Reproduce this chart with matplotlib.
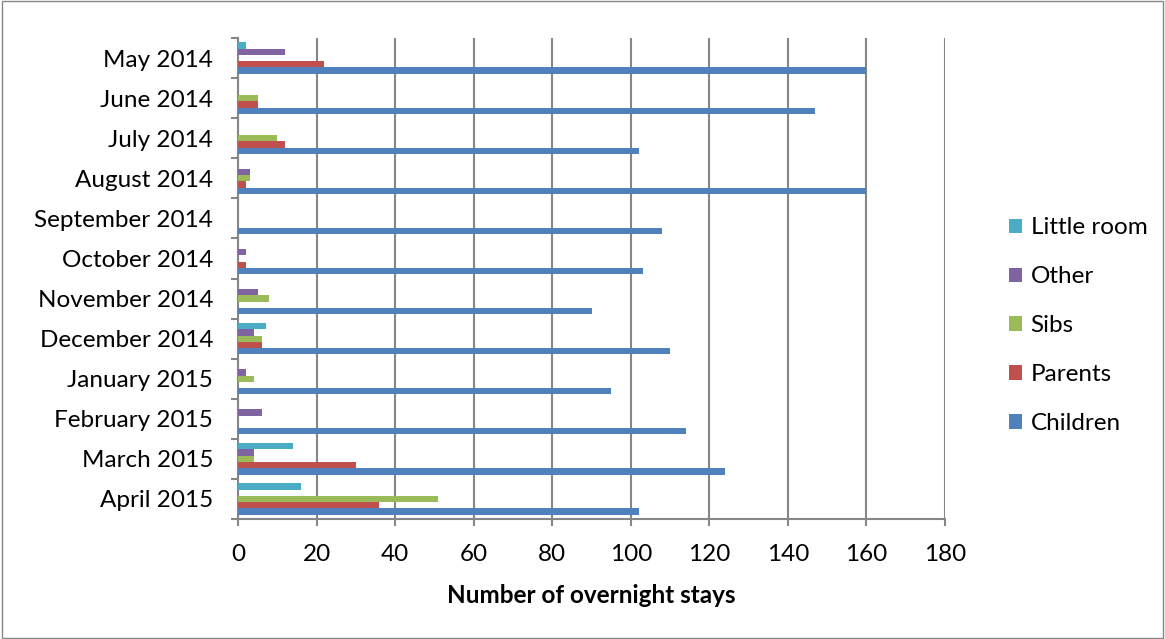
import matplotlib
matplotlib.use("Agg")
import matplotlib.pyplot as plt
import numpy as np
from matplotlib.patches import Rectangle

plt.rcParams["font.family"] = ["Lato", "DejaVu Sans"]

months = ["May 2014", "June 2014", "July 2014", "August 2014", "September 2014",
          "October 2014", "November 2014", "December 2014", "January 2015",
          "February 2015", "March 2015", "April 2015"]

children = [160, 147, 102, 160, 108, 103, 90, 110, 95, 114, 124, 102]
parents = [22, 5, 12, 2, 0, 2, 0, 6, 0, 0, 30, 36]
sibs = [0, 5, 10, 3, 0, 0, 8, 6, 4, 0, 4, 51]
other = [12, 0, 0, 3, 0, 2, 5, 4, 2, 6, 4, 0]
little_room = [2, 0, 0, 0, 0, 0, 0, 7, 0, 0, 14, 16]

series = [("Children", children, "#4F81BD"),
          ("Parents", parents, "#C0504D"),
          ("Sibs", sibs, "#9BBB59"),
          ("Other", other, "#8064A2"),
          ("Little room", little_room, "#4BACC6")]

FS = 17.5

fig = plt.figure(figsize=(11.65, 6.39), dpi=100)
ax = fig.add_axes([0.2043, 0.1878, 0.6069, 0.7527])

y = np.arange(len(months))
h = 0.156
handles = []
for k, (name, vals, color) in enumerate(series):
    # Children sits lowest in each group, Little room highest
    offs = (2 - k) * h
    b = ax.barh(y + offs, vals, height=h, color=color, label=name, zorder=3)
    handles.append(b)

ax.set_xlim(0, 180)
ax.set_ylim(len(months) - 0.5, -0.5)
ax.set_xticks(np.arange(0, 181, 20))
ax.set_yticks(y)
ax.set_yticklabels(months)
ax.set_yticks(np.arange(-0.5, len(months), 1), minor=True)

ax.grid(axis="x", color="#868686", linewidth=1.5, zorder=0)
for s in ["top", "right"]:
    ax.spines[s].set_visible(False)
for s in ["left", "bottom"]:
    ax.spines[s].set_color("#868686")
    ax.spines[s].set_linewidth(1.5)

ax.tick_params(axis="y", which="major", length=0, pad=18, labelsize=FS)
ax.tick_params(axis="y", which="minor", length=5, width=1.5, color="#868686")
ax.tick_params(axis="x", length=5, width=1.5, color="#868686", pad=13, labelsize=FS)

ax.set_xlabel("Number of overnight stays", fontsize=FS, fontweight="bold", labelpad=14)

fig.legend(handles[::-1], [s[0] for s in series][::-1],
           loc="center left", bbox_to_anchor=(0.847, 0.49), frameon=False,
           fontsize=FS, handlelength=0.55, handleheight=0.55, handletextpad=0.35,
           labelspacing=1.15)

fig.patches.append(Rectangle((0.002, 0.002), 0.996, 0.996, transform=fig.transFigure,
                             fill=False, edgecolor="#868686", linewidth=1))

fig.savefig("out.png", dpi=100)
